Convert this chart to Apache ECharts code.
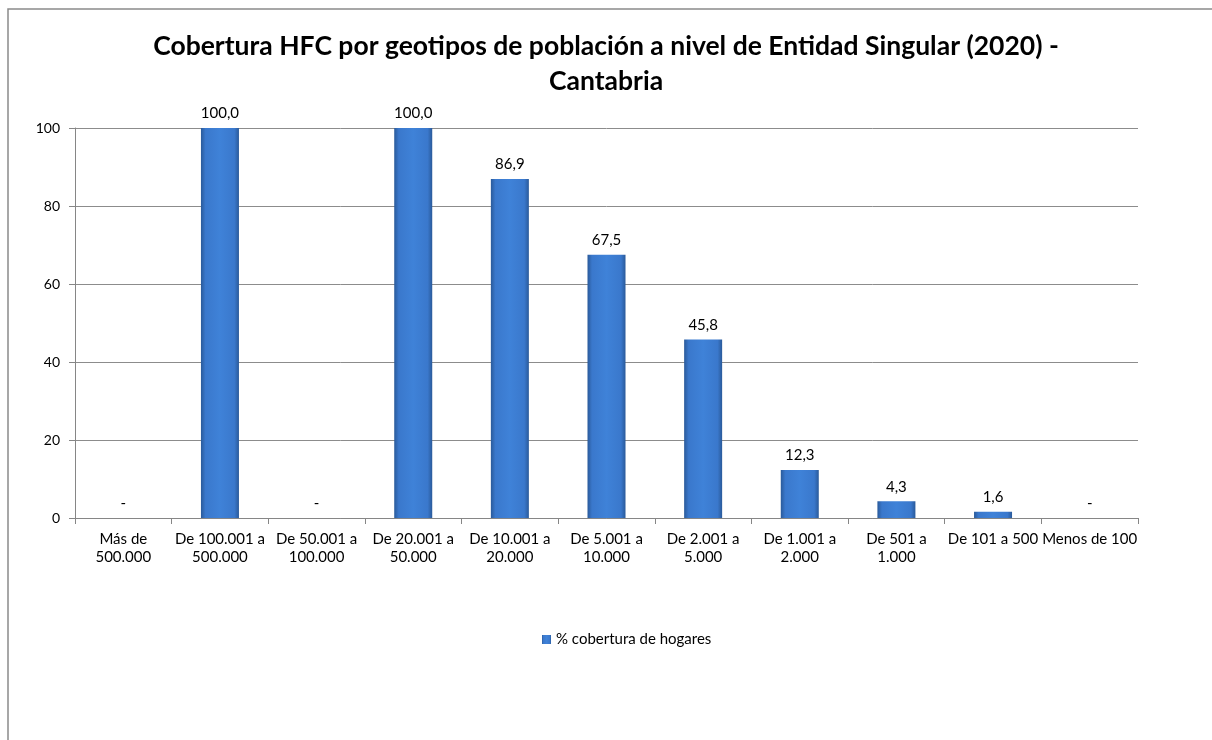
<!DOCTYPE html>
<html>
<head>
<meta charset="utf-8">
<script src="https://cdn.jsdelivr.net/npm/echarts@6/dist/echarts.min.js"></script>
<style>
  html, body { margin: 0; padding: 0; background: #fff; }
  #main { width: 1212px; height: 740px; }
</style>
</head>
<body>
<div id="main"></div>
<script>
// categorías (geotipos)
var categories = ['Más de\n500.000', 'De 100.001 a\n500.000', 'De 50.001 a\n100.000', 'De 20.001 a\n50.000',
  'De 10.001 a\n20.000', 'De 5.001 a\n10.000', 'De 2.001 a\n5.000', 'De 1.001 a\n2.000',
  'De 501 a\n1.000', 'De 101 a 500', 'Menos de 100'];
// % cobertura de hogares
var coverage = [0, 100, 0, 100, 86.9, 67.5, 45.8, 12.3, 4.3, 1.6, 0];
var yTicks = [0, 20, 40, 60, 80, 100];

var font = 'Lato';
var chart = echarts.init(document.getElementById('main'));
var option = {
  backgroundColor: '#fff',
  textStyle: { fontFamily: font },
  graphic: [{
    type: 'rect',
    shape: { x: 8, y: 9, width: 1400, height: 900 },
    style: { fill: 'none', stroke: '#8a8a8a', lineWidth: 1.5 },
    silent: true
  }],
  title: {
    text: 'Cobertura HFC por geotipos de población a nivel de Entidad Singular (2020) -\nCantabria',
    left: 'center',
    top: 24,
    textStyle: { fontFamily: font, fontSize: 26.5, fontWeight: 'bold', color: '#000', lineHeight: 35 }
  },
  legend: {
    bottom: 88,
    left: 537,
    itemWidth: 9,
    itemHeight: 9,
    itemGap: 4,
    icon: 'rect',
    textStyle: { fontFamily: font, fontSize: 15, color: '#000' },
    data: ['% cobertura de hogares']
  },
  grid: { left: 75, right: 74, top: 128, bottom: 222 },
  xAxis: {
    type: 'category',
    data: categories,
    axisLine: { lineStyle: { color: '#868686' } },
    axisTick: { show: true, length: 6, lineStyle: { color: '#868686' } },
    axisLabel: { color: '#000', fontSize: 15, fontFamily: font, lineHeight: 18, margin: 12, interval: 0 }
  },
  yAxis: {
    type: 'value',
    min: yTicks[0],
    max: yTicks[yTicks.length - 1],
    interval: 20,
    axisLine: { show: true, lineStyle: { color: '#868686' } },
    axisTick: { show: true, length: 6, lineStyle: { color: '#868686' } },
    axisLabel: { color: '#000', fontSize: 14, fontFamily: font, margin: 15 },
    splitLine: { lineStyle: { color: '#8c8c8c' } }
  },
  series: [{
    name: '% cobertura de hogares',
    type: 'bar',
    data: coverage,
    barWidth: 38,
    itemStyle: {
      color: new echarts.graphic.LinearGradient(0, 0, 1, 0, [
        { offset: 0, color: '#2a5a9a' },
        { offset: 0.12, color: '#3a78cc' },
        { offset: 0.5, color: '#3f82d8' },
        { offset: 0.88, color: '#3a78cc' },
        { offset: 1, color: '#2a5a9a' }
      ]),
      borderWidth: 0
    },
    label: {
      show: true,
      position: 'top',
      distance: 7,
      color: '#000',
      fontSize: 15,
      fontFamily: font,
      formatter: function (p) {
        return p.value === 0 ? '-' : p.value.toFixed(1).replace('.', ',');
      }
    }
  }]
};
chart.setOption(option);
</script>
</body>
</html>
